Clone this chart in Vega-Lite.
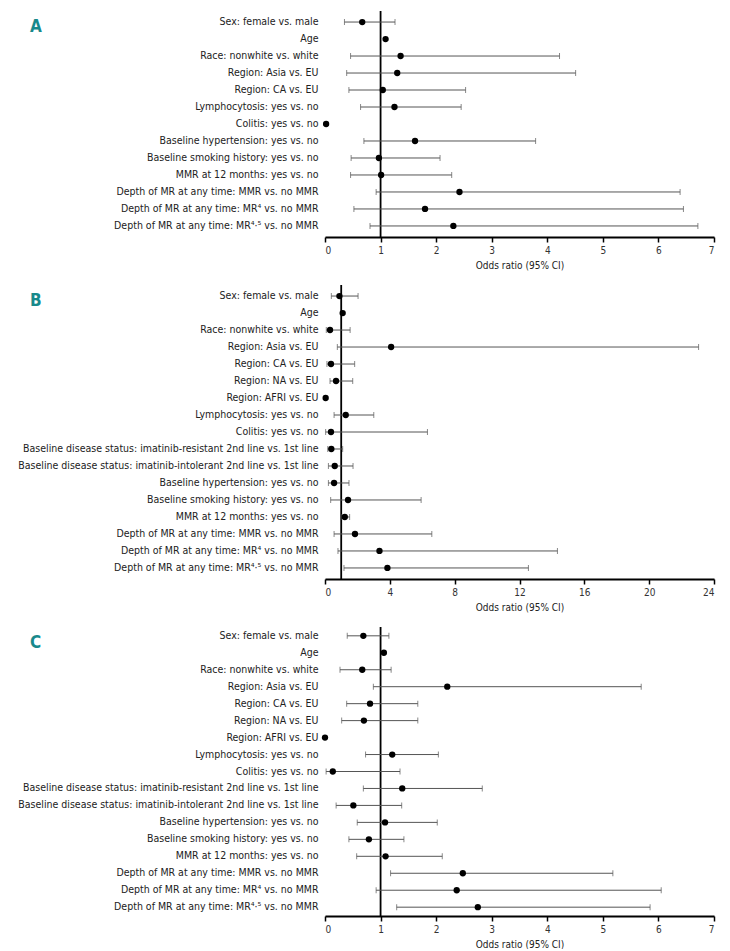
{
  "$schema": "https://vega.github.io/schema/vega-lite/v6.json",
  "padding": {"left": 17, "top": 10, "right": 5, "bottom": 0},
  "spacing": 14,
  "config": {
    "font": "'DejaVu Sans Condensed', Roboto, sans-serif",
    "view": {"stroke": null},
    "title": {"font": "'DejaVu Sans Condensed', Roboto, sans-serif", "fontSize": 17, "fontWeight": "bold", "color": "#18898b", "anchor": "start", "frame": "group", "baseline": "middle", "dx": -295, "dy": 30},
    "axisX": {"domainColor": "black", "domainWidth": 2, "tickColor": "black", "tickWidth": 1.5, "tickSize": 5, "labelFontSize": 10, "labelPadding": 3, "labelColor": "#333", "titleFontSize": 10, "titleFontWeight": "normal", "titleColor": "#222", "titlePadding": 5, "grid": false, "format": "d"},
    "axisY": {"title": null, "domain": false, "ticks": false, "labelPadding": 7, "labelFontSize": 10.5, "labelColor": "#222", "labelLimit": 500, "grid": false}
  },
  "datasets": {
    "rows": [
      {"panel": "A", "order": 1, "label": "Sex: female vs. male", "or": 0.67, "lo": 0.35, "hi": 1.26},
      {"panel": "A", "order": 2, "label": "Age", "or": 1.09, "lo": null, "hi": null},
      {"panel": "A", "order": 3, "label": "Race: nonwhite vs. white", "or": 1.36, "lo": 0.46, "hi": 4.22},
      {"panel": "A", "order": 4, "label": "Region: Asia vs. EU", "or": 1.30, "lo": 0.39, "hi": 4.51},
      {"panel": "A", "order": 5, "label": "Region: CA vs. EU", "or": 1.04, "lo": 0.43, "hi": 2.53},
      {"panel": "A", "order": 6, "label": "Lymphocytosis: yes vs. no", "or": 1.25, "lo": 0.64, "hi": 2.45},
      {"panel": "A", "order": 7, "label": "Colitis: yes vs. no", "or": 0.02, "lo": null, "hi": null},
      {"panel": "A", "order": 8, "label": "Baseline hypertension: yes vs. no", "or": 1.62, "lo": 0.70, "hi": 3.79},
      {"panel": "A", "order": 9, "label": "Baseline smoking history: yes vs. no", "or": 0.97, "lo": 0.47, "hi": 2.07},
      {"panel": "A", "order": 10, "label": "MMR at 12 months: yes vs. no", "or": 1.01, "lo": 0.46, "hi": 2.28},
      {"panel": "A", "order": 11, "label": "Depth of MR at any time: MMR vs. no MMR", "or": 2.42, "lo": 0.92, "hi": 6.39},
      {"panel": "A", "order": 12, "label": "Depth of MR at any time: MR⁴ vs. no MMR", "or": 1.80, "lo": 0.52, "hi": 6.45},
      {"panel": "A", "order": 13, "label": "Depth of MR at any time: MR⁴·⁵ vs. no MMR", "or": 2.31, "lo": 0.81, "hi": 6.71},

      {"panel": "B", "order": 1, "label": "Sex: female vs. male", "or": 0.89, "lo": 0.39, "hi": 2.04},
      {"panel": "B", "order": 2, "label": "Age", "or": 1.09, "lo": null, "hi": null},
      {"panel": "B", "order": 3, "label": "Race: nonwhite vs. white", "or": 0.31, "lo": 0.08, "hi": 1.55},
      {"panel": "B", "order": 4, "label": "Region: Asia vs. EU", "or": 4.08, "lo": 0.76, "hi": 23.05},
      {"panel": "B", "order": 5, "label": "Region: CA vs. EU", "or": 0.37, "lo": 0.12, "hi": 1.83},
      {"panel": "B", "order": 6, "label": "Region: NA vs. EU", "or": 0.68, "lo": 0.31, "hi": 1.71},
      {"panel": "B", "order": 7, "label": "Region: AFRI vs. EU", "or": 0.04, "lo": null, "hi": null},
      {"panel": "B", "order": 8, "label": "Lymphocytosis: yes vs. no", "or": 1.28, "lo": 0.56, "hi": 3.01},
      {"panel": "B", "order": 9, "label": "Colitis: yes vs. no", "or": 0.37, "lo": 0.04, "hi": 6.32},
      {"panel": "B", "order": 10, "label": "Baseline disease status: imatinib-resistant 2nd line vs. 1st line", "or": 0.39, "lo": 0.17, "hi": 1.09},
      {"panel": "B", "order": 11, "label": "Baseline disease status: imatinib-intolerant 2nd line vs. 1st line", "or": 0.60, "lo": 0.21, "hi": 1.73},
      {"panel": "B", "order": 12, "label": "Baseline hypertension: yes vs. no", "or": 0.56, "lo": 0.21, "hi": 1.48},
      {"panel": "B", "order": 13, "label": "Baseline smoking history: yes vs. no", "or": 1.42, "lo": 0.35, "hi": 5.93},
      {"panel": "B", "order": 14, "label": "MMR at 12 months: yes vs. no", "or": 1.22, "lo": 1.03, "hi": 1.52},
      {"panel": "B", "order": 15, "label": "Depth of MR at any time: MMR vs. no MMR", "or": 1.85, "lo": 0.56, "hi": 6.59},
      {"panel": "B", "order": 16, "label": "Depth of MR at any time: MR⁴ vs. no MMR", "or": 3.36, "lo": 0.80, "hi": 14.34},
      {"panel": "B", "order": 17, "label": "Depth of MR at any time: MR⁴·⁵ vs. no MMR", "or": 3.85, "lo": 1.17, "hi": 12.55},

      {"panel": "C", "order": 1, "label": "Sex: female vs. male", "or": 0.69, "lo": 0.40, "hi": 1.15},
      {"panel": "C", "order": 2, "label": "Age", "or": 1.06, "lo": null, "hi": null},
      {"panel": "C", "order": 3, "label": "Race: nonwhite vs. white", "or": 0.67, "lo": 0.27, "hi": 1.19},
      {"panel": "C", "order": 4, "label": "Region: Asia vs. EU", "or": 2.20, "lo": 0.87, "hi": 5.69},
      {"panel": "C", "order": 5, "label": "Region: CA vs. EU", "or": 0.81, "lo": 0.39, "hi": 1.67},
      {"panel": "C", "order": 6, "label": "Region: NA vs. EU", "or": 0.70, "lo": 0.30, "hi": 1.67},
      {"panel": "C", "order": 7, "label": "Region: AFRI vs. EU", "or": 0.0, "lo": null, "hi": null},
      {"panel": "C", "order": 8, "label": "Lymphocytosis: yes vs. no", "or": 1.21, "lo": 0.73, "hi": 2.04},
      {"panel": "C", "order": 9, "label": "Colitis: yes vs. no", "or": 0.14, "lo": 0.02, "hi": 1.35},
      {"panel": "C", "order": 10, "label": "Baseline disease status: imatinib-resistant 2nd line vs. 1st line", "or": 1.39, "lo": 0.69, "hi": 2.83},
      {"panel": "C", "order": 11, "label": "Baseline disease status: imatinib-intolerant 2nd line vs. 1st line", "or": 0.51, "lo": 0.20, "hi": 1.38},
      {"panel": "C", "order": 12, "label": "Baseline hypertension: yes vs. no", "or": 1.08, "lo": 0.58, "hi": 2.02},
      {"panel": "C", "order": 13, "label": "Baseline smoking history: yes vs. no", "or": 0.79, "lo": 0.43, "hi": 1.42},
      {"panel": "C", "order": 14, "label": "MMR at 12 months: yes vs. no", "or": 1.09, "lo": 0.57, "hi": 2.11},
      {"panel": "C", "order": 15, "label": "Depth of MR at any time: MMR vs. no MMR", "or": 2.48, "lo": 1.18, "hi": 5.18},
      {"panel": "C", "order": 16, "label": "Depth of MR at any time: MR⁴ vs. no MMR", "or": 2.37, "lo": 0.92, "hi": 6.05},
      {"panel": "C", "order": 17, "label": "Depth of MR at any time: MR⁴·⁵ vs. no MMR", "or": 2.75, "lo": 1.29, "hi": 5.85}
    ]
  },
  "vconcat": [
    {
      "title": {"text": "A"},
      "width": 389, "height": 226,
      "data": {"name": "rows"},
      "transform": [{"filter": "datum.panel === 'A'"}],
      "layer": [
        {
          "data": {"values": [{"ref": 1}]},
          "mark": {"type": "rule", "color": "black", "strokeWidth": 1.8},
          "encoding": {"x": {"field": "ref", "type": "quantitative", "scale": {"domain": [0, 7], "nice": false}, "axis": {"title": "Odds ratio (95% CI)", "values": [0, 1, 2, 3, 4, 5, 6, 7]}}}
        },
        {
          "transform": [{"filter": "datum.lo != null"}],
          "mark": {"type": "rule", "color": "#555", "strokeWidth": 1},
          "encoding": {"y": {"field": "label", "type": "nominal", "sort": {"field": "order"}, "scale": {"paddingOuter": 0.15, "paddingInner": 0}}, "x": {"field": "lo", "type": "quantitative"}, "x2": {"field": "hi"}}
        },
        {
          "transform": [{"filter": "datum.lo != null"}],
          "mark": {"type": "tick", "color": "#555", "thickness": 1, "size": 6},
          "encoding": {"y": {"field": "label", "type": "nominal", "sort": {"field": "order"}}, "x": {"field": "lo", "type": "quantitative"}}
        },
        {
          "transform": [{"filter": "datum.lo != null"}],
          "mark": {"type": "tick", "color": "#555", "thickness": 1, "size": 6},
          "encoding": {"y": {"field": "label", "type": "nominal", "sort": {"field": "order"}}, "x": {"field": "hi", "type": "quantitative"}}
        },
        {
          "mark": {"type": "point", "filled": true, "color": "black", "opacity": 1, "size": 40, "clip": false},
          "encoding": {"y": {"field": "label", "type": "nominal", "sort": {"field": "order"}}, "x": {"field": "or", "type": "quantitative"}}
        }
      ]
    },
    {
      "title": {"text": "B"},
      "width": 389, "height": 294,
      "data": {"name": "rows"},
      "transform": [{"filter": "datum.panel === 'B'"}],
      "layer": [
        {
          "data": {"values": [{"ref": 1}]},
          "mark": {"type": "rule", "color": "black", "strokeWidth": 1.8},
          "encoding": {"x": {"field": "ref", "type": "quantitative", "scale": {"domain": [0, 24], "nice": false}, "axis": {"title": "Odds ratio (95% CI)", "values": [0, 4, 8, 12, 16, 20, 24]}}}
        },
        {
          "transform": [{"filter": "datum.lo != null"}],
          "mark": {"type": "rule", "color": "#555", "strokeWidth": 1},
          "encoding": {"y": {"field": "label", "type": "nominal", "sort": {"field": "order"}, "scale": {"paddingOuter": 0.15, "paddingInner": 0}}, "x": {"field": "lo", "type": "quantitative"}, "x2": {"field": "hi"}}
        },
        {
          "transform": [{"filter": "datum.lo != null"}],
          "mark": {"type": "tick", "color": "#555", "thickness": 1, "size": 6},
          "encoding": {"y": {"field": "label", "type": "nominal", "sort": {"field": "order"}}, "x": {"field": "lo", "type": "quantitative"}}
        },
        {
          "transform": [{"filter": "datum.lo != null"}],
          "mark": {"type": "tick", "color": "#555", "thickness": 1, "size": 6},
          "encoding": {"y": {"field": "label", "type": "nominal", "sort": {"field": "order"}}, "x": {"field": "hi", "type": "quantitative"}}
        },
        {
          "mark": {"type": "point", "filled": true, "color": "black", "opacity": 1, "size": 40, "clip": false},
          "encoding": {"y": {"field": "label", "type": "nominal", "sort": {"field": "order"}}, "x": {"field": "or", "type": "quantitative"}}
        }
      ]
    },
    {
      "title": {"text": "C"},
      "width": 389, "height": 289,
      "data": {"name": "rows"},
      "transform": [{"filter": "datum.panel === 'C'"}],
      "layer": [
        {
          "data": {"values": [{"ref": 1}]},
          "mark": {"type": "rule", "color": "black", "strokeWidth": 1.8},
          "encoding": {"x": {"field": "ref", "type": "quantitative", "scale": {"domain": [0, 7], "nice": false}, "axis": {"title": "Odds ratio (95% CI)", "values": [0, 1, 2, 3, 4, 5, 6, 7]}}}
        },
        {
          "transform": [{"filter": "datum.lo != null"}],
          "mark": {"type": "rule", "color": "#555", "strokeWidth": 1},
          "encoding": {"y": {"field": "label", "type": "nominal", "sort": {"field": "order"}, "scale": {"paddingOuter": 0.02, "paddingInner": 0}}, "x": {"field": "lo", "type": "quantitative"}, "x2": {"field": "hi"}}
        },
        {
          "transform": [{"filter": "datum.lo != null"}],
          "mark": {"type": "tick", "color": "#555", "thickness": 1, "size": 6},
          "encoding": {"y": {"field": "label", "type": "nominal", "sort": {"field": "order"}}, "x": {"field": "lo", "type": "quantitative"}}
        },
        {
          "transform": [{"filter": "datum.lo != null"}],
          "mark": {"type": "tick", "color": "#555", "thickness": 1, "size": 6},
          "encoding": {"y": {"field": "label", "type": "nominal", "sort": {"field": "order"}}, "x": {"field": "hi", "type": "quantitative"}}
        },
        {
          "mark": {"type": "point", "filled": true, "color": "black", "opacity": 1, "size": 40, "clip": false},
          "encoding": {"y": {"field": "label", "type": "nominal", "sort": {"field": "order"}}, "x": {"field": "or", "type": "quantitative"}}
        }
      ]
    }
  ]
}
